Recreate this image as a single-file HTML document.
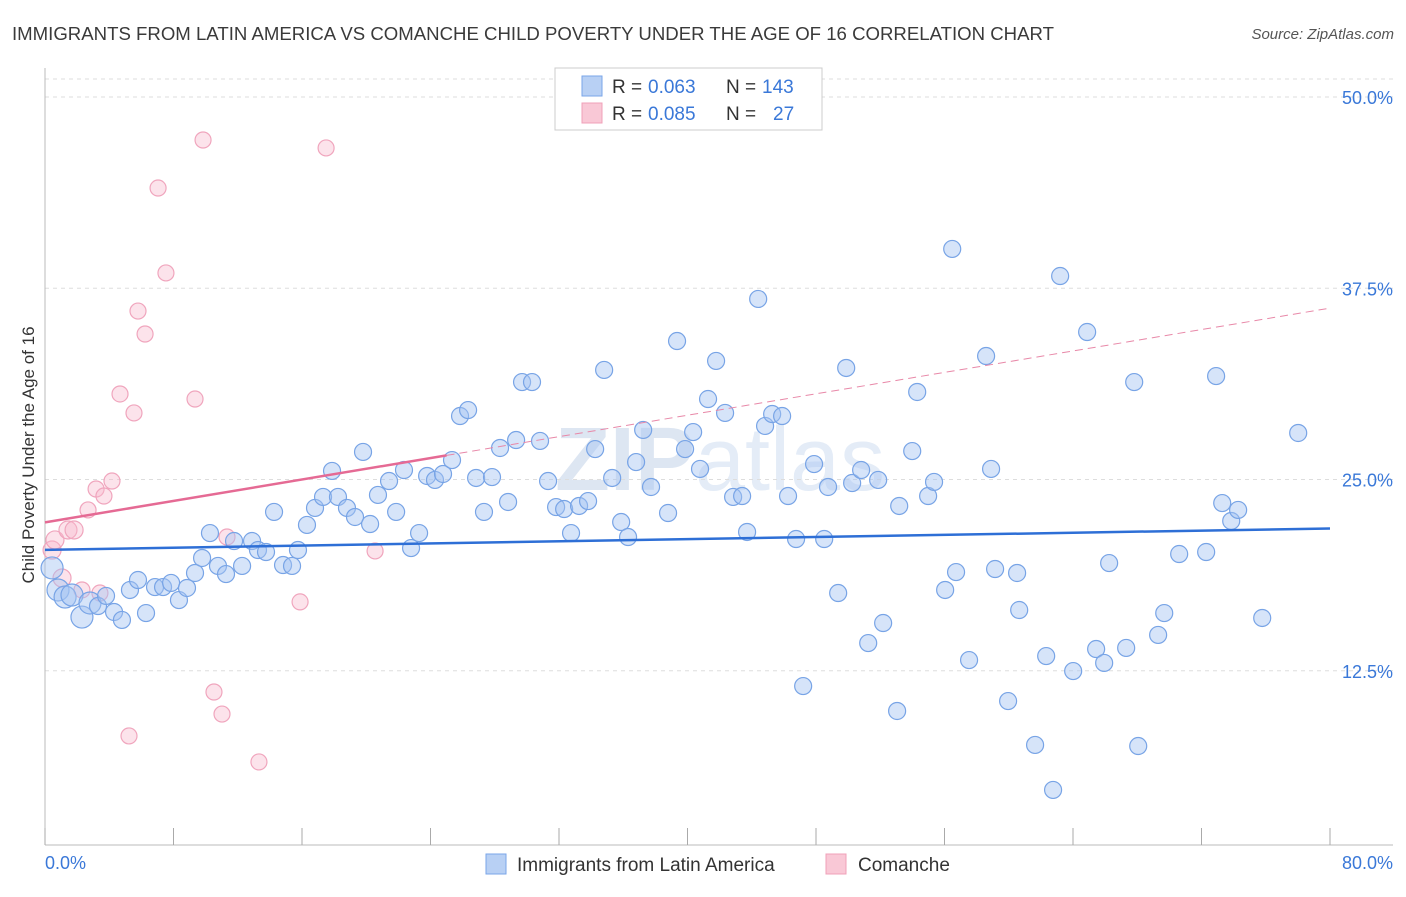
<!DOCTYPE html>
<html><head><meta charset="utf-8"><style>
body{margin:0;background:#fff;font-family:"Liberation Sans",sans-serif}
svg text{font-family:"Liberation Sans",sans-serif}
</style></head><body>
<svg id="chart" width="1406" height="892" xmlns="http://www.w3.org/2000/svg">
<text x="12" y="40" font-size="18" fill="#3a3a3a" textLength="1042" lengthAdjust="spacingAndGlyphs">IMMIGRANTS FROM LATIN AMERICA VS COMANCHE CHILD POVERTY UNDER THE AGE OF 16 CORRELATION CHART</text>
<text x="1394" y="39" font-size="15" fill="#555" font-style="italic" text-anchor="end">Source: ZipAtlas.com</text>
<text x="720" y="490" font-size="90" fill="#dde6f2" text-anchor="middle" font-weight="bold">ZIP<tspan fill="#e4ecf7" font-weight="normal">atlas</tspan></text>
<g id="grid"></g><g id="axes"></g><g id="marks"></g>
<text transform="translate(34,455) rotate(-90)" font-size="17" fill="#333" text-anchor="middle">Child Poverty Under the Age of 16</text>
<g>
<rect x="555" y="68" width="267" height="62" fill="#fff" stroke="#ccc"/>
<rect x="582" y="76" width="20" height="20" fill="#b8d0f4" stroke="#7aa6e8"/>
<rect x="582" y="103" width="20" height="20" fill="#f9c8d6" stroke="#f0a0b8"/>
<text x="612" y="93" font-size="19" fill="#333">R =</text>
<text x="648" y="93" font-size="19" fill="#3a78d8">0.063</text>
<text x="726" y="93" font-size="19" fill="#333">N =</text>
<text x="762" y="93" font-size="19" fill="#3a78d8">143</text>
<text x="612" y="120" font-size="19" fill="#333">R =</text>
<text x="648" y="120" font-size="19" fill="#3a78d8">0.085</text>
<text x="726" y="120" font-size="19" fill="#333">N =</text>
<text x="773" y="120" font-size="19" fill="#3a78d8">27</text>
</g>
<g>
<rect x="486" y="854" width="20" height="20" fill="#b8d0f4" stroke="#7aa6e8"/>
<text x="517" y="871" font-size="19" fill="#333">Immigrants from Latin America</text>
<rect x="826" y="854" width="20" height="20" fill="#f9c8d6" stroke="#f0a0b8"/>
<text x="858" y="871" font-size="19" fill="#333">Comanche</text>
</g>
</svg>
<script>
const blueX=[0.44,0.81,1.25,1.68,2.30,2.80,3.30,3.80,4.30,4.79,5.29,5.79,6.29,6.85,7.35,7.85,8.34,8.84,9.34,9.78,10.27,10.77,11.27,11.77,12.27,12.89,13.26,13.76,14.26,14.82,15.38,15.75,16.31,16.81,17.31,17.87,18.24,18.80,19.30,19.80,20.24,20.73,21.42,21.86,22.35,22.79,23.29,23.79,24.28,24.78,25.34,25.84,26.34,26.84,27.33,27.83,28.33,28.83,29.33,29.70,30.32,30.82,31.32,31.82,32.32,32.75,33.25,33.81,34.25,34.81,35.31,35.87,36.30,36.80,37.24,37.73,38.79,39.35,39.85,40.35,40.78,41.28,41.78,42.34,42.84,43.40,43.71,44.40,44.83,45.27,45.89,46.26,46.76,47.20,47.88,48.51,48.75,49.38,49.88,50.25,50.81,51.25,51.87,52.18,53.05,53.18,53.99,54.30,54.98,55.35,56.04,56.48,56.72,57.53,58.59,58.90,59.15,59.96,60.52,60.65,61.64,62.33,62.76,63.20,64.01,64.88,65.44,65.94,66.25,67.31,67.81,68.06,69.30,69.68,70.61,72.29,72.91,73.29,73.85,74.28,75.78,78.02];
const blueY=[19.22,17.78,17.32,17.45,16.01,16.93,16.73,17.39,16.34,15.82,17.78,18.43,16.27,17.97,17.97,18.24,17.12,17.91,18.89,19.87,21.50,19.35,18.82,20.98,19.35,20.98,20.39,20.26,22.88,19.41,19.35,20.39,22.03,23.14,23.86,25.56,23.86,23.14,22.55,26.80,22.09,23.99,24.90,22.88,25.62,20.52,21.50,25.23,24.97,25.36,26.27,29.15,29.54,25.10,22.88,25.16,27.06,23.53,27.58,31.37,31.37,27.52,24.90,23.20,23.07,21.50,23.27,23.59,26.99,32.16,25.10,22.22,21.24,26.14,28.24,24.51,22.81,34.05,26.99,28.10,25.69,30.26,32.75,29.35,23.86,23.92,21.57,36.80,28.50,29.28,29.15,23.92,21.11,11.50,26.01,21.11,24.51,17.58,32.29,24.77,25.62,14.31,24.97,15.62,9.87,23.27,26.86,30.72,23.92,24.84,17.78,40.07,18.95,13.20,33.07,25.69,19.15,10.52,18.89,16.47,7.65,13.46,4.71,38.30,12.48,34.64,13.92,13.01,19.54,13.99,31.37,7.58,14.84,16.27,20.13,20.26,31.76,23.46,22.29,23.01,15.95,28.04];
const pinkX=[0.44,0.62,1.06,1.43,1.81,2.30,2.68,3.18,3.42,3.67,4.17,5.23,5.54,5.79,6.23,7.04,7.53,9.34,9.84,10.52,11.02,11.33,13.32,15.88,17.50,20.55,4.67];
const pinkY=[20.39,21.05,18.56,21.70,21.70,17.78,23.01,24.38,17.58,23.92,24.90,8.24,29.35,36.01,34.51,44.05,38.50,30.26,47.19,11.11,9.67,21.24,6.54,17.00,46.67,20.33,30.59];
const yTicks=[12.5,25,37.5,50];
const yTickLabels=["12.5%","25.0%","37.5%","50.0%"];
const xTicks=[0,8,16,24,32,40,48,56,64,72,80];
const blueTrend=[20.4,21.8];
const pinkTrend=[22.2,36.2];
const pinkSolidEnd=25;
const NS="http://www.w3.org/2000/svg";
const X=v=>45+v*16.0625, Y=v=>97+(50-v)*15.3;
function mk(t,a,p){const e=document.createElementNS(NS,t);for(const k in a)e.setAttribute(k,a[k]);p.appendChild(e);return e;}
const grid=document.getElementById('grid'),axes=document.getElementById('axes'),marks=document.getElementById('marks');
mk('line',{x1:45,y1:Y(50)-18,x2:1393,y2:Y(50)-18,stroke:'#ddd','stroke-dasharray':'4,4'},grid);
yTicks.forEach((t,i)=>{const l=mk('line',{x1:45,y1:Y(t),x2:1393,y2:Y(t),stroke:'#ddd','stroke-dasharray':'4,4'},grid);


const tx=mk('text',{x:1393,y:Y(t)+7,'font-size':18,fill:'#3a78d8','text-anchor':'end'},axes);tx.textContent=yTickLabels[i];

});
mk('line',{x1:45,y1:68,x2:45,y2:845,stroke:'#bbb'},axes);
mk('line',{x1:45,y1:845,x2:1393,y2:845,stroke:'#bbb'},axes);
xTicks.forEach(t=>{const l=mk('line',{x1:X(t),y1:828,x2:X(t),y2:845,stroke:'#aaa'},axes);

});
const xl0=mk('text',{x:45,y:869,'font-size':18,fill:'#3a78d8'},axes);xl0.textContent='0.0%';


const xl1=mk('text',{x:1393,y:869,'font-size':18,fill:'#3a78d8','text-anchor':'end'},axes);xl1.textContent='80.0%';


pinkX.forEach((x,i)=>{const c=mk('circle',{cx:X(x),cy:Y(pinkY[i]),r:x<2?9:8,fill:'rgba(248,185,205,0.4)',stroke:'#f0a5bd','stroke-width':1.2},marks);

});
blueX.forEach((x,i)=>{const c=mk('circle',{cx:X(x),cy:Y(blueY[i]),r:x<3?11:8.5,fill:'rgba(165,195,242,0.45)',stroke:'#78a4e6','stroke-width':1.2},marks);

});
const bt=mk('line',{x1:X(0),y1:Y(blueTrend[0]),x2:X(80),y2:Y(blueTrend[1]),stroke:'#2e6fd6','stroke-width':2.5},marks);


const pAt=x=>pinkTrend[0]+(pinkTrend[1]-pinkTrend[0])*x/80;
const pd=mk('line',{x1:X(pinkSolidEnd),y1:Y(pAt(pinkSolidEnd)),x2:X(80),y2:Y(pinkTrend[1]),stroke:'#e888a8','stroke-width':1,'stroke-dasharray':'8,5'},marks);


const ps=mk('line',{x1:X(0),y1:Y(pinkTrend[0]),x2:X(pinkSolidEnd),y2:Y(pAt(pinkSolidEnd)),stroke:'#e56a94','stroke-width':2.5},marks);


</script>
</body></html>
